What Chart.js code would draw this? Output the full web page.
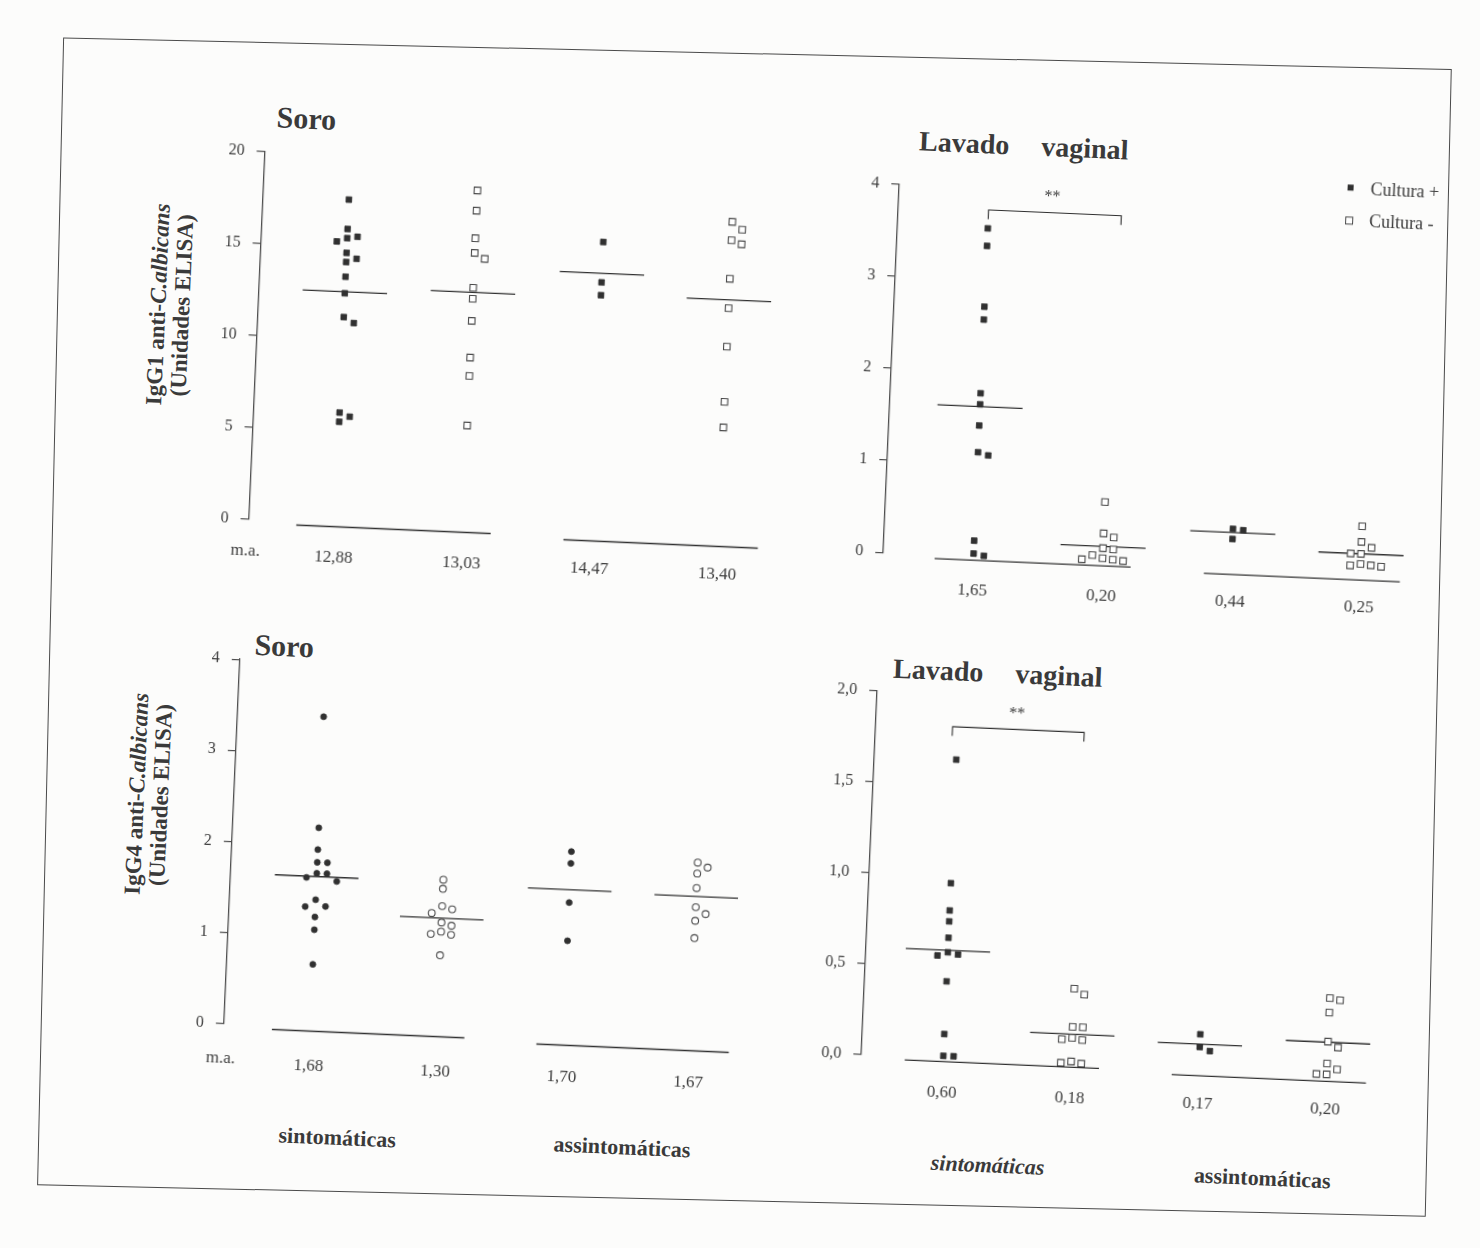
<!DOCTYPE html>
<html lang="pt">
<head>
<meta charset="utf-8">
<title>IgG1 e IgG4 anti-C. albicans</title>
<script src="https://cdn.jsdelivr.net/npm/chart.js@4.4.1/dist/chart.umd.min.js"></script>
<style>
  html, body { margin: 0; padding: 0; background: #fcfcfb; }
  body { width: 1480px; height: 1248px; position: relative; overflow: hidden;
         font-family: "Liberation Serif", "DejaVu Serif", serif; color: #3a3a3a; }
  #frame { position: absolute; left: 50px; top: 53px; width: 1387px; height: 1146px;
           border: 1.5px solid #4a4a4a; transform: rotate(1.3deg); transform-origin: 690px 571px; }
  #fig { position: absolute; left: 0; top: 0; width: 1480px; height: 1248px;
         transform: rotate(2.5deg); transform-origin: 740px 624px; }
  #fig canvas { position: absolute; }
  .title { position: absolute; font-weight: bold; font-size: 28px; line-height: 32px; white-space: nowrap; }
  .ytitle { position: absolute; width: 300px; height: 50px; margin-left: -150px; margin-top: -25px;
            transform: rotate(-90deg); font-weight: bold; font-size: 23px; line-height: 24px;
            text-align: center; white-space: nowrap; }
  .group { position: absolute; font-weight: bold; font-size: 22px; white-space: nowrap;
           transform: translate(-50%, -50%); }
</style>
</head>
<body>
<div id="frame"></div>
<div id="fig">
  <div class="title" style="left:255px; top:122px; font-size:30px">Soro</div>
  <div class="title" style="left:898px; top:118px">Lavado<span style="margin-left:32px">vaginal</span></div>
  <div class="title" style="left:256px; top:650px; font-size:30px">Soro</div>
  <div class="title" style="left:895px; top:646px">Lavado<span style="margin-left:32px">vaginal</span></div>

  <div class="ytitle" style="left:158px; top:330px">IgG1 anti-<i>C.albicans</i><br>(Unidades ELISA)</div>
  <div class="ytitle" style="left:158px; top:820px">IgG4 anti-<i>C.albicans</i><br>(Unidades ELISA)</div>

  <div class="group" style="left:360px; top:1155px">sintomáticas</div>
  <div class="group" style="left:645px; top:1152px">assintomáticas</div>
  <div class="group" style="left:1011px; top:1154px; font-style:italic">sintomáticas</div>
  <div class="group" style="left:1286px; top:1155px">assintomáticas</div>

  <canvas id="c1" width="620" height="490" style="left:180px; top:110px"></canvas>
  <canvas id="c2" width="640" height="500" style="left:820px; top:110px"></canvas>
  <canvas id="c3" width="610" height="470" style="left:180px; top:640px"></canvas>
  <canvas id="c4" width="620" height="480" style="left:820px; top:630px"></canvas>
</div>

<script>
const INK = '#303030';
const AXIS = '#4d4d4d';
const TEXT = '#3d3d3d';
const SERIF = '"Liberation Serif", "DejaVu Serif", serif';

// four groups along x: sintomáticas cultura +/-, assintomáticas cultura +/-
const groupPos = [1, 2, 3, 4];
const cultureLabels = ['Cultura +', 'Cultura -'];

// IgG1 anti-C. albicans - soro
const igg1SoroSintPos = [17.6, 16.0, 15.6, 15.5, 15.3, 14.7, 14.4, 14.2, 13.4, 12.5, 11.2, 10.9, 6.0, 5.8, 5.5];
const igg1SoroSintNeg = [18.4, 17.3, 15.8, 15.0, 14.7, 13.1, 12.5, 11.3, 9.3, 8.3, 5.6];
const igg1SoroAssintPos = [15.9, 13.7, 13.0];
const igg1SoroAssintNeg = [17.3, 16.9, 16.3, 16.1, 14.2, 12.6, 10.5, 7.5, 6.1];
const igg1SoroMa = ['12,88', '13,03', '14,47', '13,40'];

// IgG1 anti-C. albicans - lavado vaginal
const igg1LavSintPos = [3.56, 3.37, 2.71, 2.57, 1.77, 1.65, 1.42, 1.13, 1.10, 0.17, 0.03, 0.01];
const igg1LavSintNeg = [0.65, 0.31, 0.27, 0.15, 0.14, 0.07, 0.04, 0.03, 0.02, 0.02];
const igg1LavAssintPos = [0.42, 0.41, 0.31];
const igg1LavAssintNeg = [0.51, 0.34, 0.28, 0.21, 0.21, 0.10, 0.09, 0.08, 0.08];
const igg1LavMa = ['1,65', '0,20', '0,44', '0,25'];

// IgG4 anti-C. albicans - soro
const igg4SoroSintPos = [3.41, 2.19, 1.95, 1.81, 1.81, 1.69, 1.69, 1.64, 1.61, 1.40, 1.33, 1.32, 1.21, 1.07, 0.69];
const igg4SoroSintNeg = [1.68, 1.58, 1.39, 1.36, 1.31, 1.21, 1.18, 1.11, 1.08, 1.08, 0.85];
const igg4SoroAssintPos = [2.05, 1.92, 1.49, 1.07];
const igg4SoroAssintNeg = [1.99, 1.94, 1.87, 1.71, 1.50, 1.43, 1.35, 1.16];
const igg4SoroMa = ['1,68', '1,30', '1,70', '1,67'];

// IgG4 anti-C. albicans - lavado vaginal
const igg4LavSintPos = [1.64, 0.96, 0.81, 0.75, 0.66, 0.58, 0.57, 0.56, 0.42, 0.13, 0.01, 0.01];
const igg4LavSintNeg = [0.41, 0.38, 0.20, 0.20, 0.14, 0.13, 0.13, 0.01, 0.0, 0.0];
const igg4LavAssintPos = [0.19, 0.12, 0.10];
const igg4LavAssintNeg = [0.42, 0.41, 0.34, 0.18, 0.15, 0.06, 0.03, 0.0, 0.0];
const igg4LavMa = ['0,60', '0,18', '0,17', '0,20'];

const mean = a => a.reduce((s, v) => s + v, 0) / a.length;

// put points that would overlap side by side (0, +1, -1, +2, -2 steps)
function spread(values, center, yRange) {
  const thr = yRange * 0.022;
  const step = 0.08;
  const placed = [];
  values.forEach(v => {
    let x = center;
    for (let k = 0; k < 9; k++) {
      const off = (k % 2 ? 1 : -1) * Math.ceil(k / 2) * step;
      const hit = placed.some(p => Math.abs(p.y - v) < thr && Math.abs(p.x - (center + off)) < step * 0.9);
      if (!hit) { x = center + off; break; }
    }
    placed.push({ x: x, y: v });
  });
  return placed;
}

const figureExtras = {
  id: 'figureExtras',
  afterDatasetsDraw(chart, args, opts) {
    const { ctx, chartArea, scales } = chart;
    const xs = scales.x, ys = scales.y;
    ctx.save();
    ctx.strokeStyle = INK;
    ctx.lineWidth = 1.3;

    // lines under each pair of groups
    [[0.70, 2.22, 4], [2.79, 4.31, 7]].forEach(([a, b, drop]) => {
      const yy = chartArea.bottom + drop;
      ctx.beginPath();
      ctx.moveTo(xs.getPixelForValue(a), yy);
      ctx.lineTo(xs.getPixelForValue(b), yy);
      ctx.stroke();
    });

    ctx.fillStyle = TEXT;
    if (opts.maY) {
      ctx.font = '17px ' + SERIF;
      ctx.textAlign = 'center';
      ctx.textBaseline = 'middle';
      ctx.fillText('m.a.', chartArea.left - 2, chartArea.bottom + opts.maY);
    }

    if (opts.bracket) {
      const br = opts.bracket;
      const x0 = xs.getPixelForValue(br.from), x1 = xs.getPixelForValue(br.to);
      ctx.lineWidth = 1.1;
      ctx.beginPath();
      ctx.moveTo(x0, ys.getPixelForValue(br.leg));
      ctx.lineTo(x0, ys.getPixelForValue(br.top));
      ctx.lineTo(x1, ys.getPixelForValue(br.top));
      ctx.lineTo(x1, ys.getPixelForValue(br.leg));
      ctx.stroke();
      ctx.font = '16px ' + SERIF;
      ctx.textAlign = 'center';
      ctx.textBaseline = 'middle';
      ctx.fillText('**', xs.getPixelForValue(br.starX), ys.getPixelForValue(br.starY));
    }

    if (opts.legend) {
      const lx = chartArea.right - 84, ly = chartArea.top - 16;
      ctx.fillStyle = INK;
      ctx.fillRect(lx - 3, ly - 3, 6, 6);
      ctx.fillStyle = '#fff';
      ctx.strokeStyle = '#4a4a4a';
      ctx.lineWidth = 1;
      ctx.fillRect(lx - 3.5, ly + 29.5, 7, 7);
      ctx.strokeRect(lx - 3.5, ly + 29.5, 7, 7);
      ctx.fillStyle = TEXT;
      ctx.font = '18px ' + SERIF;
      ctx.textAlign = 'left';
      ctx.textBaseline = 'middle';
      ctx.fillText(cultureLabels[0], lx + 20, ly + 2);
      ctx.fillText(cultureLabels[1], lx + 20, ly + 34);
    }
    ctx.restore();
  }
};

const panels = [
  { id: 'c1', groups: [igg1SoroSintPos, igg1SoroSintNeg, igg1SoroAssintPos, igg1SoroAssintNeg],
    ma: igg1SoroMa, yMax: 20, yStep: 5, marker: 'rect', fmt: v => String(v),
    xMin: 0.326, xMax: 4.5, yAxisW: 64.5, xAxisH: 59.5, padTop: 63, padRight: 21.2, labelPad: 17,
    maY: 32.3 },
  { id: 'c2', groups: [igg1LavSintPos, igg1LavSintNeg, igg1LavAssintPos, igg1LavAssintNeg],
    ma: igg1LavMa, yMax: 4, yStep: 1, marker: 'rect', fmt: v => String(v),
    xMin: 0.30, xMax: 4.447, yAxisW: 60, xAxisH: 63.8, padTop: 67.4, padRight: 45, labelPad: 16,
    bracket: { from: 1.0, to: 2.03, top: 3.76, leg: 3.66, starX: 1.49, starY: 3.93 }, legend: true },
  { id: 'c3', groups: [igg4SoroSintPos, igg4SoroSintNeg, igg4SoroAssintPos, igg4SoroAssintNeg],
    ma: igg4SoroMa, yMax: 4, yStep: 1, marker: 'circle', fmt: v => String(v),
    xMin: 0.319, xMax: 4.45, yAxisW: 61.8, xAxisH: 64.5, padTop: 41.1, padRight: 24.8, labelPad: 21,
    maY: 34.8 },
  { id: 'c4', groups: [igg4LavSintPos, igg4LavSintNeg, igg4LavAssintPos, igg4LavAssintNeg],
    ma: igg4LavMa, yMax: 2, yStep: 0.5, marker: 'rect', fmt: v => v.toFixed(1).replace('.', ','),
    xMin: 0.359, xMax: 4.448, yAxisW: 60, xAxisH: 61.6, padTop: 54.6, padRight: 37, labelPad: 17,
    bracket: { from: 0.96, to: 1.99, top: 1.82, leg: 1.77, starX: 1.46, starY: 1.905 } }
];

function buildPanel(p) {
  const pts = p.groups.map((vals, i) => spread(vals, groupPos[i], p.yMax));
  const square = p.marker === 'rect';
  const datasets = [
    { label: cultureLabels[0], data: pts[0].concat(pts[2]), pointStyle: p.marker,
      pointRadius: square ? 4 : 3, backgroundColor: INK, borderColor: INK, borderWidth: 0.8, clip: false },
    { label: cultureLabels[1], data: pts[1].concat(pts[3]), pointStyle: p.marker,
      pointRadius: square ? 4.6 : 3.4, backgroundColor: '#fff', borderColor: '#4a4a4a', borderWidth: 1.1, clip: false }
  ];
  p.groups.forEach((vals, i) => {
    const m = mean(vals);
    datasets.push({
      type: 'line', label: 'média', data: [{ x: groupPos[i] - 0.33, y: m }, { x: groupPos[i] + 0.33, y: m }],
      borderColor: INK, borderWidth: 1.3, pointRadius: 0, fill: false, clip: false
    });
  });

  new Chart(document.getElementById(p.id), {
    type: 'scatter',
    data: { datasets: datasets },
    plugins: [figureExtras],
    options: {
      responsive: false,
      animation: false,
      events: [],
      layout: { padding: { top: p.padTop, right: p.padRight, left: 0, bottom: 0 } },
      plugins: {
        legend: { display: false },
        tooltip: { enabled: false },
        figureExtras: { maY: p.maY || 0, bracket: p.bracket || null, legend: !!p.legend }
      },
      scales: {
        x: {
          type: 'linear', min: p.xMin, max: p.xMax,
          grid: { display: false },
          border: { display: false },
          afterBuildTicks: axis => { axis.ticks = groupPos.map(v => ({ value: v })); },
          afterFit: axis => { axis.height = p.xAxisH; },
          ticks: {
            autoSkip: false, maxRotation: 0, padding: p.labelPad, color: TEXT,
            font: { family: SERIF, size: 17 },
            callback: (v, i) => p.ma[i]
          }
        },
        y: {
          min: 0, max: p.yMax,
          afterFit: axis => { axis.width = p.yAxisW; },
          grid: { drawOnChartArea: false, drawTicks: true, tickLength: 8, color: AXIS, lineWidth: 1.2 },
          border: { display: true, color: AXIS, width: 1.3 },
          ticks: {
            stepSize: p.yStep, padding: 12, color: TEXT,
            font: { family: SERIF, size: 16 },
            callback: v => p.fmt(v)
          }
        }
      }
    }
  });
}

panels.forEach(buildPanel);
</script>
</body>
</html>
